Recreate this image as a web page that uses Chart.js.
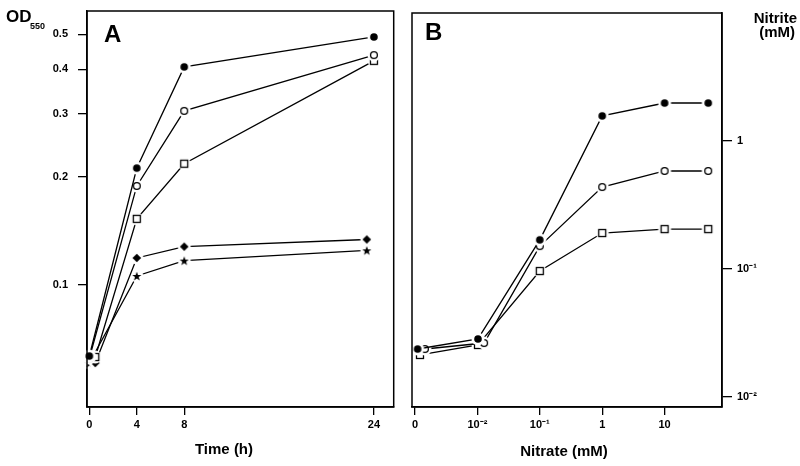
<!DOCTYPE html>
<html><head><meta charset="utf-8">
<script src="https://cdn.jsdelivr.net/npm/chart.js@4/dist/chart.umd.min.js"></script>
<style>
html,body{margin:0;padding:0;background:#fff}
body{width:800px;height:466px;overflow:hidden;position:relative;font-family:"Liberation Sans",Arial,sans-serif}
canvas{position:absolute;top:0}
#ca{left:0}
#cb{left:400px}
.t{position:absolute;font-weight:bold;color:#000;white-space:nowrap;line-height:1}
</style></head><body>
<canvas id="ca" width="400" height="466"></canvas>
<canvas id="cb" width="400" height="466"></canvas>
<div class="t" style="left:6px;top:8px;font-size:17px">OD</div>
<div class="t" style="left:30px;top:22px;font-size:9px">550</div>
<div class="t" style="left:104px;top:22px;font-size:24px">A</div>
<div class="t" style="left:425px;top:20px;font-size:24px">B</div>
<div class="t" style="left:174px;top:441px;width:100px;text-align:center;font-size:15px">Time (h)</div>
<div class="t" style="left:504px;top:443px;width:120px;text-align:center;font-size:15px">Nitrate (mM)</div>
<div class="t" style="right:3px;top:10px;font-size:15px;text-align:right">Nitrite</div>
<div class="t" style="right:5px;top:24px;font-size:15px;text-align:right">(mM)</div>
<script>
// ---------- Panel A data ----------
const timeTicks = [0, 4, 8, 24];
const odTicks = [0.1, 0.2, 0.3, 0.4, 0.5];
const tFilledCircle = [0, 4, 8, 24];
const odFilledCircle = [0.0634, 0.212, 0.406, 0.492];
const tOpenCircle = [0, 4, 8, 24];
const odOpenCircle = [0.0626, 0.189, 0.306, 0.438];
const tSquare = [0.5, 4, 8, 24];
const odSquare = [0.063, 0.153, 0.218, 0.422];
const tDiamond = [0.5, 4, 8, 23.4];
const odDiamond = [0.0606, 0.119, 0.128, 0.134];
const tStar = [0, 4, 8, 23.4];
const odStar = [0.0606, 0.106, 0.117, 0.125];

// ---------- Panel B data ----------
const nitrateTicks = [0.001, 0.01, 0.1, 1, 10];
const nitrateTickLabels = ["0", "10\u207B\u00B2", "10\u207B\u00B9", "1", "10"];
const nitriteTicks = [0.01, 0.1, 1];
const nitriteTickLabels = ["10\u207B\u00B2", "10\u207B\u00B9", "1"];
const nFilledCircle = [0.0011, 0.0102, 0.1, 1, 10, 50];
const niFilledCircle = [0.0237, 0.0284, 0.169, 1.57, 1.98, 1.98];
const nOpenCircle = [0.00144, 0.0128, 0.1, 1, 10, 50];
const niOpenCircle = [0.0237, 0.0264, 0.151, 0.437, 0.583, 0.583];
const nSquare = [0.0012, 0.0102, 0.1, 1, 10, 50];
const niSquare = [0.0213, 0.0255, 0.0964, 0.191, 0.205, 0.205];

// ---------- marker images ----------
function marker(kind) {
  const c = document.createElement('canvas');
  c.width = c.height = 16;
  const g = c.getContext('2d');
  const m = 8;
  g.fillStyle = '#fff';
  g.beginPath(); g.arc(m, m, 6.5, 0, Math.PI * 2); g.fill();
  g.fillStyle = '#000'; g.strokeStyle = '#000'; g.lineWidth = 1.3;
  if (kind === 'fc') { g.beginPath(); g.arc(m, m, 3.8, 0, Math.PI * 2); g.fill(); }
  if (kind === 'oc') { g.fillStyle = '#fff'; g.beginPath(); g.arc(m, m, 3.4, 0, Math.PI * 2); g.fill(); g.stroke(); }
  if (kind === 'sq') { g.fillStyle = '#fff'; g.fillRect(m - 3.5, m - 3.5, 7, 7); g.strokeRect(m - 3.5, m - 3.5, 7, 7); }
  if (kind === 'di') { g.beginPath(); g.moveTo(m, m - 4.3); g.lineTo(m + 4.3, m); g.lineTo(m, m + 4.3); g.lineTo(m - 4.3, m); g.closePath(); g.fill(); }
  if (kind === 'st') {
    g.beginPath();
    for (let i = 0; i < 10; i++) {
      const r = i % 2 === 0 ? 4.8 : 2.0;
      const a = -Math.PI / 2 + i * Math.PI / 5;
      const px = m + r * Math.cos(a), py = m + 0.5 + r * Math.sin(a);
      if (i === 0) g.moveTo(px, py); else g.lineTo(px, py);
    }
    g.closePath(); g.fill();
  }
  return c;
}
const mk = { fc: marker('fc'), oc: marker('oc'), sq: marker('sq'), di: marker('di'), st: marker('st') };

function series(xs, ys, style) {
  return {
    data: xs.map((x, i) => ({ x: x, y: ys[i] })),
    borderColor: '#000', borderWidth: 1.3, pointStyle: mk[style],
    pointRadius: 5, pointHoverRadius: 5, fill: false, tension: 0, clip: false
  };
}

const tickFont = { family: '"Liberation Sans", Arial, sans-serif', weight: 'bold', size: 11 };
const frame = {
  id: 'frame',
  afterDatasetsDraw(chart) {
    const a = chart.chartArea, g = chart.ctx;
    g.save(); g.strokeStyle = '#000'; g.lineWidth = 1.5;
    g.strokeRect(a.left, a.top, a.right - a.left, a.bottom - a.top);
    g.restore();
  }
};
const fixedTicks = vals => scale => { scale.ticks = vals.map(v => ({ value: v })); };
const fitSize = (w, h) => s => {
  if (w !== null) s.width = w;
  if (h !== null) s.height = h;
  s.paddingTop = 0; s.paddingBottom = 0; s.paddingLeft = 0; s.paddingRight = 0;
};

Chart.defaults.animation = false;

new Chart(document.getElementById('ca'), {
  type: 'line',
  data: { datasets: [
    series(tFilledCircle, odFilledCircle, 'fc'),
    series(tOpenCircle, odOpenCircle, 'oc'),
    series(tSquare, odSquare, 'sq'),
    series(tDiamond, odDiamond, 'di'),
    series(tStar, odStar, 'st')
  ] },
  options: {
    responsive: false, animation: false,
    layout: { padding: { top: 11, right: 3, left: 0, bottom: 0 } },
    plugins: { legend: { display: false }, tooltip: { enabled: false } },
    scales: {
      x: {
        type: 'linear', min: -0.2, max: 25.67, bounds: 'data',
        afterBuildTicks: fixedTicks(timeTicks),
        afterFit: fitSize(null, 59),
        grid: { drawOnChartArea: false, drawTicks: true, tickLength: 8, color: '#000', lineWidth: 1.3 },
        border: { display: true, color: '#000', width: 1.5 },
        ticks: { font: tickFont, color: '#000', padding: 3, maxRotation: 0, autoSkip: false, callback: v => String(v) }
      },
      y: {
        type: 'logarithmic', min: 0.0457, max: 0.5813, bounds: 'data',
        afterBuildTicks: fixedTicks(odTicks),
        afterFit: fitSize(87, null),
        grid: { drawOnChartArea: false, drawTicks: true, tickLength: 9, color: '#000', lineWidth: 1.3 },
        border: { display: true, color: '#000', width: 1.5 },
        ticks: { font: tickFont, color: '#000', padding: 10, autoSkip: false, callback: v => String(v) }
      }
    }
  },
  plugins: [frame]
});

new Chart(document.getElementById('cb'), {
  type: 'line',
  data: { datasets: [
    series(nFilledCircle, niFilledCircle, 'fc'),
    series(nOpenCircle, niOpenCircle, 'oc'),
    series(nSquare, niSquare, 'sq')
  ] },
  options: {
    responsive: false, animation: false,
    layout: { padding: { top: 13, right: 0, left: 12, bottom: 0 } },
    plugins: { legend: { display: false }, tooltip: { enabled: false } },
    scales: {
      x: {
        type: 'logarithmic', min: 0.000895, max: 83.2, bounds: 'data',
        afterBuildTicks: fixedTicks(nitrateTicks),
        afterFit: fitSize(null, 59),
        grid: { drawOnChartArea: false, drawTicks: true, tickLength: 8, color: '#000', lineWidth: 1.3 },
        border: { display: true, color: '#000', width: 1.5 },
        ticks: { font: tickFont, color: '#000', padding: 3, maxRotation: 0, autoSkip: false,
          callback: (v, i) => nitrateTickLabels[i] }
      },
      y: {
        type: 'logarithmic', position: 'right', min: 0.00835, max: 10, bounds: 'data',
        afterBuildTicks: fixedTicks(nitriteTicks),
        afterFit: fitSize(78, null),
        grid: { drawOnChartArea: false, drawTicks: true, tickLength: 10, color: '#000', lineWidth: 1.3 },
        border: { display: true, color: '#000', width: 1.5 },
        ticks: { font: tickFont, color: '#000', padding: 5, autoSkip: false,
          callback: (v, i) => nitriteTickLabels[i] }
      }
    }
  },
  plugins: [frame]
});
</script>
</body></html>
